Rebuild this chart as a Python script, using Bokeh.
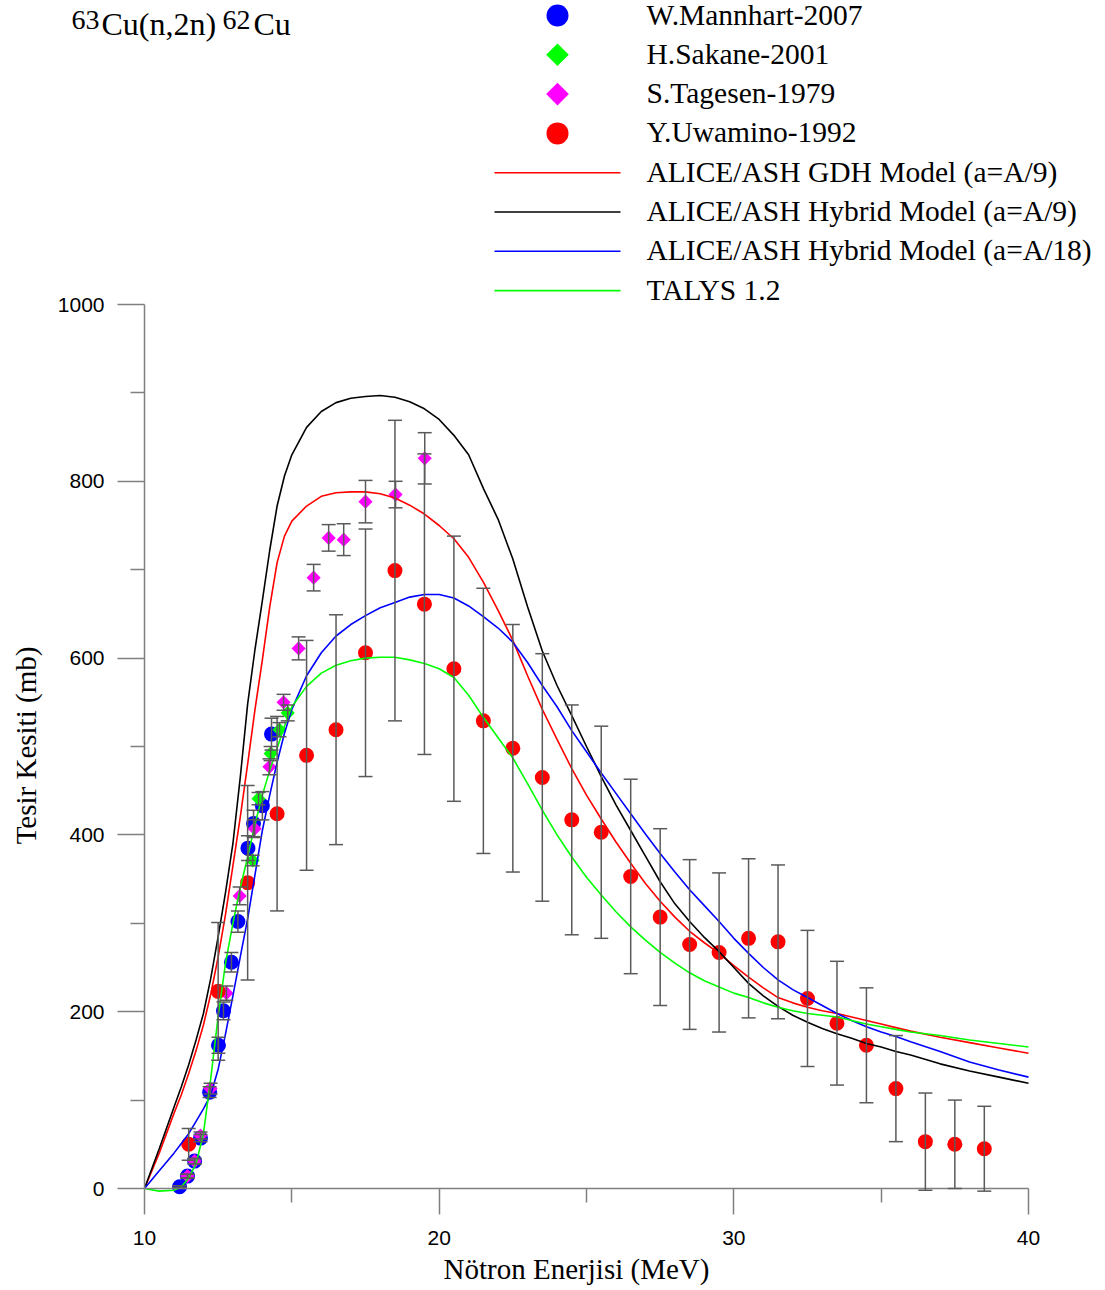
import numpy as np
from bokeh.plotting import figure
from bokeh.models import (Range1d, ColumnDataSource, Whisker, TeeHead, Label, FixedTicker)
from bokeh.embed import file_html
from bokeh.resources import INLINE

# ---------------- data ----------------
mannhart_e = [11.19, 11.46, 11.70, 11.90, 12.21, 12.51, 12.68, 12.95, 13.17, 13.51, 13.70, 14.00, 14.31]
mannhart_s = [2, 14, 31, 57, 109, 162, 201, 256, 302, 385, 413, 433, 514]
mannhart_err = [1, 2, 3, 4, 6, 9, 10, 11, 12, 14, 15, 16, 18]

sakane_e = [13.67, 13.87, 14.28, 14.58, 14.86]
sakane_s = [371, 441, 492, 519, 538]
sakane_err = [6, 7, 8, 8, 9]

tagesen_e = [11.46, 11.70, 11.90, 12.24, 12.78, 13.23, 13.74, 14.24, 14.72, 15.23,
             15.74, 16.25, 16.76, 17.50, 18.52, 19.51]
tagesen_s = [14, 31, 60, 113, 221, 331, 407, 477, 550, 611, 691, 736, 734, 777, 785, 826]
tagesen_err = [2, 3, 4, 6, 8, 10, 10, 9, 9, 13, 15, 15, 18, 24, 15, 29]

uwamino_e = [11.5, 12.5, 13.5, 14.5, 15.5, 16.5, 17.5, 18.5, 19.5, 20.5, 21.5, 22.5, 23.5, 24.5,
             25.5, 26.5, 27.5, 28.5, 29.5, 30.5, 31.5, 32.5, 33.5, 34.5, 35.5, 36.5, 37.5, 38.5]
uwamino_s = [50, 223, 346, 424, 490, 519, 606, 699, 661, 588, 529, 498, 465, 417,
             403, 353, 307, 276, 267, 283, 279, 215, 187, 162, 113, 53, 50, 45]
uwamino_err = [18, 78, 110, 110, 130, 130, 140, 170, 170, 150, 150, 140, 140, 130,
               120, 110, 100, 96, 90, 90, 87, 77, 70, 65, 60, 55, 50, 48]

model_e = [10, 10.5, 11, 11.25, 11.5, 11.75, 12, 12.25, 12.5, 12.75, 13, 13.25, 13.5, 13.75,
           14, 14.25, 14.5, 14.75, 15, 15.5, 16, 16.5, 17, 17.5, 18, 18.5, 19, 19.5, 20,
           20.5, 21, 21.5, 22, 22.5, 23, 23.5, 24, 24.5, 25, 25.5, 26, 26.5, 27, 27.5, 28,
           28.5, 29, 29.5, 30, 30.5, 31, 31.5, 32, 32.5, 33, 33.5, 34, 34.5, 35, 35.5, 36,
           37, 38, 39, 40]
gdh_a9 = [0, 40, 85, 106, 130, 156, 185, 220, 262, 310, 365, 420, 480, 542,
          598, 658, 708, 738, 755, 772, 783, 787, 788, 788, 786, 781, 773, 763, 750,
          735, 714, 686, 654, 620, 580, 542, 508, 475, 445, 418, 392, 368, 345, 325, 307,
          291, 278, 266, 252, 239, 227, 216, 210, 205, 201, 198, 194, 190, 186, 182, 178,
          171, 165, 159, 153]
hybrid_a9 = [0, 45, 92, 115, 140, 168, 198, 238, 285, 335, 390, 465, 548, 610,
             665, 722, 772, 806, 830, 861, 879, 889, 894, 896, 897, 895, 890, 882, 870,
             852, 830, 792, 757, 712, 658, 608, 569, 535, 500, 466, 434, 405, 376, 347, 322,
             302, 284, 268, 250, 232, 218, 206, 196, 188, 181, 175, 170, 164, 160, 155, 151,
             141, 133, 126, 119]
hybrid_a18 = [0, 20, 40, 51, 62, 76, 90, 106, 135, 175, 218, 262, 305, 355,
              405, 445, 482, 515, 542, 580, 606, 625, 638, 648, 657, 663, 669, 672, 672,
              668, 659, 647, 634, 618, 595, 569, 545, 518, 494, 470, 447, 424, 401, 379, 358,
              338, 320, 302, 283, 266, 250, 236, 225, 216, 207, 198, 190, 183, 177, 172, 166,
              155, 143, 134, 126]
talys = [0, -3, -2, 2, 12, 28, 62, 125, 195, 255, 300, 340, 375, 412,
         445, 473, 498, 523, 545, 568, 583, 592, 597, 600, 601, 601, 598, 594, 588,
         578, 558, 533, 510, 487, 458, 428, 400, 375, 352, 332, 313, 296, 281, 267, 255,
         244, 235, 228, 221, 216, 210, 205, 201, 198, 196, 194, 190, 186, 183, 180, 177,
         173, 168, 164, 160]

x_major = [10, 20, 30, 40]
x_minor = [15, 25, 35]
y_major = [0, 200, 400, 600, 800, 1000]
y_minor = [100, 300, 500, 700, 900]

marker_labels = ["W.Mannhart-2007", "H.Sakane-2001", "S.Tagesen-1979", "Y.Uwamino-1992"]
line_labels = ["ALICE/ASH GDH Model (a=A/9)", "ALICE/ASH Hybrid Model (a=A/9)",
               "ALICE/ASH Hybrid Model (a=A/18)", "TALYS 1.2"]
x_title = "Nötron Enerjisi (MeV)"
y_title = "Tesir Kesiti (mb)"

# ---------------- geometry (frame covers the whole canvas; axes are pinned) ----
W, H = 1105, 1290
X0_PX, X1_PX = 144, 1028        # pixel columns of 10 and 40 MeV
Y0_PX, Y1_PX = 1188, 304        # pixel rows of 0 and 1000 mb
KX = (X1_PX - X0_PX) / 30.0     # px per MeV
KY = (Y0_PX - Y1_PX) / 1000.0   # px per mb


def dx(px):
    return 10 + (px - X0_PX) / KX


def dy(py):
    return (Y0_PX - py) / KY


AX = "#808080"
p = figure(width=W, height=H, output_backend="svg", toolbar_location=None,
           x_range=Range1d(dx(0), dx(W)), y_range=Range1d(dy(H), dy(0)),
           min_border=0, min_border_left=0, min_border_right=0,
           min_border_top=0, min_border_bottom=0)
p.outline_line_color = None
p.xgrid.visible = False
p.ygrid.visible = False
p.background_fill_color = "white"
p.border_fill_color = "white"

p.xaxis.ticker = FixedTicker(ticks=x_major, minor_ticks=x_minor)
p.yaxis.ticker = FixedTicker(ticks=y_major, minor_ticks=y_minor)
p.xaxis.fixed_location = 0
p.yaxis.fixed_location = 10
p.xaxis.bounds = (10, 40)
p.yaxis.bounds = (0, 1000)
for ax in (p.xaxis, p.yaxis):
    ax.axis_line_color = AX
    ax.axis_line_width = 1.5
    ax.major_tick_line_color = AX
    ax.major_tick_line_width = 1.5
    ax.minor_tick_line_color = AX
    ax.minor_tick_line_width = 1.5
    ax.major_tick_in = 0
    ax.minor_tick_in = 0
    ax.major_label_text_font = "Liberation Sans"
    ax.major_label_text_font_size = "21px"
    ax.major_label_text_color = "black"

p.xaxis.major_tick_out = 26
p.xaxis.minor_tick_out = 14
p.yaxis.major_tick_out = 27
p.yaxis.minor_tick_out = 14
p.xaxis.major_label_standoff = 16
p.yaxis.major_label_standoff = 13

SERIF = "Liberation Serif"

# axis titles
p.add_layout(Label(x=dx(576), y=dy(1268), text=x_title, text_font=SERIF,
                   text_font_size="29px", text_align="center", text_baseline="middle",
                   text_color="black"))
p.add_layout(Label(x=dx(25), y=dy(745), text=y_title, text_font=SERIF,
                   text_font_size="29px", text_align="center", text_baseline="middle",
                   angle=np.pi / 2, text_color="black"))

# ---------------- markers + error bars ----------------
def add_series(e, s, err, color, marker, size, angle=0.0):
    src = ColumnDataSource(dict(x=e, y=s,
                                up=[a + b for a, b in zip(s, err)],
                                lo=[a - b for a, b in zip(s, err)]))
    r = p.scatter("x", "y", source=src, marker=marker, size=size, angle=angle,
                  fill_color=color, line_color=None)
    w = Whisker(source=src, base="x", upper="up", lower="lo", dimension="height",
                line_color="#5a5a5a", line_width=1.5, level="annotation",
                upper_head=TeeHead(size=14, line_color="#5a5a5a", line_width=1.5),
                lower_head=TeeHead(size=14, line_color="#5a5a5a", line_width=1.5))
    p.add_layout(w)
    return r


marker_styles = [("#0000ff", "circle", 15, 0.0), ("#00ff00", "square", 10, np.pi / 4),
                 ("#ff00ff", "square", 10, np.pi / 4), ("#ff0000", "circle", 15, 0.0)]
series = [(mannhart_e, mannhart_s, mannhart_err), (sakane_e, sakane_s, sakane_err),
          (tagesen_e, tagesen_s, tagesen_err), (uwamino_e, uwamino_s, uwamino_err)]
for (e, s, err), (c, m, sz, ang) in zip(series, marker_styles):
    add_series(e, s, err, c, m, sz, ang)

# ---------------- model curves ----------------
line_colors = ["#ff0000", "#000000", "#0000ff", "#00ff00"]
for ys, c in zip([gdh_a9, hybrid_a9, hybrid_a18, talys], line_colors):
    p.line(model_e, ys, line_color=c, line_width=1.6)

# ---------------- legend (key drawn above the plot area) ----------------
ROW0, PITCH = 14, 39.3
KEY_X, LINE_X0, LINE_X1, TEXT_X = 557, 494, 620, 646
LEG_FONT = "29.5px"
legend_size = {"circle": 22, "square": 16}
for i, (lab, (c, m, sz, ang)) in enumerate(zip(marker_labels, marker_styles)):
    ry = ROW0 + i * PITCH
    p.scatter([dx(KEY_X)], [dy(ry + 1)], marker=m, size=legend_size[m], angle=ang,
              fill_color=c, line_color=None)
    p.add_layout(Label(x=dx(TEXT_X), y=dy(ry), text=lab, text_font=SERIF,
                       text_font_size=LEG_FONT, text_baseline="middle", text_color="black"))
for j, (lab, c) in enumerate(zip(line_labels, line_colors)):
    ry = ROW0 + (j + 4) * PITCH
    p.segment(x0=[dx(LINE_X0)], y0=[dy(ry + 1)], x1=[dx(LINE_X1)], y1=[dy(ry + 1)],
              line_color=c, line_width=1.6)
    p.add_layout(Label(x=dx(TEXT_X), y=dy(ry), text=lab, text_font=SERIF,
                       text_font_size=LEG_FONT, text_baseline="middle", text_color="black"))

# ---------------- title (with superscripts) ----------------
title_parts = [("63", 71, 19, "28px"), ("Cu(n,2n)", 101, 23, "32px"),
               ("62", 222, 19, "28px"), ("Cu", 253, 23, "32px")]
for txt, px, py, fs in title_parts:
    p.add_layout(Label(x=dx(px), y=dy(py), text=txt, text_font=SERIF,
                       text_font_size=fs, text_baseline="middle",
                       text_align="left", text_color="black"))

open("out.html", "w").write(file_html(p, INLINE))
